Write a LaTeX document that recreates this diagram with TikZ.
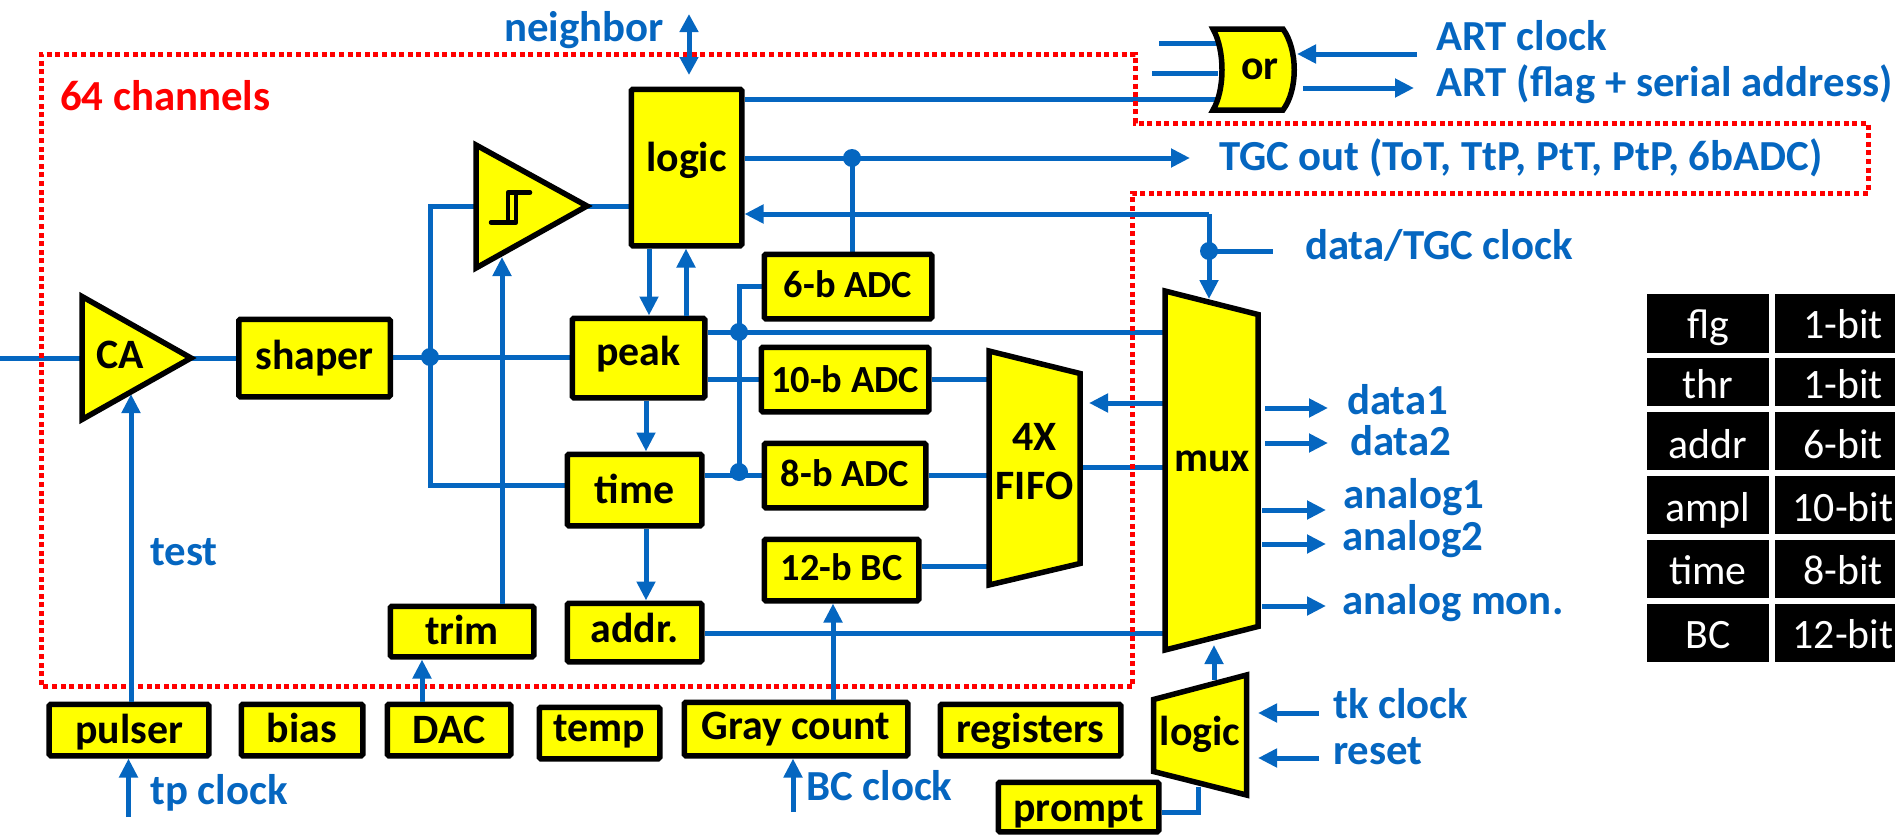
\documentclass[tikz,border=0pt]{standalone}
\usepackage{fontspec}
\setmainfont{Carlito}
\usetikzlibrary{arrows.meta}
\definecolor{wireblue}{RGB}{5,102,192}
\definecolor{blockyellow}{RGB}{255,255,0}
\definecolor{chanred}{RGB}{255,0,0}
\pgfdeclarelayer{bg}\pgfsetlayers{bg,main}
\newcommand{\adcfont}{\fontsize{38.5}{38.5}\selectfont\bfseries}
\tikzset{
  blockbox/.style={draw=black,fill=blockyellow,line width=5.5bp,rounded corners=1.5bp,inner sep=0pt,font=\fontsize{42}{42}\selectfont\bfseries,text=black,align=center},
  shapeline/.style={draw=black,fill=blockyellow,line width=5.5bp,line join=miter},
  shapetext/.style={inner sep=0pt,anchor=base,font=\fontsize{42}{42}\selectfont\bfseries,text=black},
  wire/.style={draw=wireblue,line width=5bp},
  arrowwire/.style={wire,-{Triangle[length=19bp,width=18bp]}},
  biwire/.style={wire,{Triangle[length=18bp,width=18bp]}-{Triangle[length=18bp,width=18bp]}},
  jdot/.style={circle,fill=wireblue,inner sep=0pt,minimum size=18bp},
  lbl/.style={inner sep=0pt,anchor=base west,text=wireblue,font=\fontsize{43}{43}\selectfont\bfseries},
  redlbl/.style={lbl,text=chanred},
  chanbox/.style={draw=chanred,line width=5bp,dash pattern=on 5bp off 3.6bp},
  cellbox/.style={fill=black,inner sep=0pt},
  celltext/.style={inner sep=0pt,anchor=base,text=white,font=\fontsize{42}{42}\selectfont},
}
% name, x1,y1,x2,y2 (outer edges), baseline y, text
\newcommand{\blk}[7]{%
  \pgfmathsetmacro{\bw}{#4-#2-4.5}\pgfmathsetmacro{\bh}{#5-#3-4.5}%
  \pgfmathsetmacro{\bcx}{(#2+#4)/2}\pgfmathsetmacro{\bcy}{(#3+#5)/2}%
  \pgfmathsetmacro{\bb}{#6-\bcy}\pgfmathsetmacro{\bH}{15+\bb}\pgfmathsetmacro{\bD}{15-\bb}%
  \node[blockbox,minimum width=\bw bp,minimum height=\bh bp,text height=\bH bp,text depth=\bD bp] (#1) at (\bcx,\bcy) {#7};}
% name, x1,y1,x2,y2, text x, baseline y, text
\newcommand{\tcell}[8]{%
  \pgfmathsetmacro{\bw}{#4-#2}\pgfmathsetmacro{\bh}{#5-#3}%
  \pgfmathsetmacro{\bcx}{(#2+#4)/2}\pgfmathsetmacro{\bcy}{(#3+#5)/2}%
  \node[cellbox,minimum width=\bw bp,minimum height=\bh bp] (#1) at (\bcx,\bcy) {};
  \node[celltext] (#1t) at (#6,#7) {#8};}
\begin{document}
\begin{tikzpicture}[x=1bp,y=-1bp]
\useasboundingbox (0,0) rectangle (1895,835);
% blocks
\blk{shaper}{236.5}{317}{392.5}{399}{369.5}{shaper}
\blk{logic}{629}{87}{744}{248}{171}{logic}
\blk{peak}{570}{316}{707}{400}{365.5}{peak}
\blk{time}{565}{452}{704}{528}{503.5}{time}
\blk{addr}{565}{601}{704}{664}{642}{addr.}
\blk{trim}{388}{604}{536}{659}{644.5}{trim}
\blk{adcsix}{762}{252}{934}{321}{297}{{\adcfont 6-b ADC}}
\blk{adcten}{759}{345}{931}{414}{392.5}{{\adcfont 10-b ADC}}
\blk{adceight}{762}{441}{928}{510}{486}{{\adcfont 8-b ADC}}
\blk{bc}{762}{537}{921}{603}{580}{{\adcfont 12-b BC}}
\blk{pulser}{47}{702}{211}{758}{743}{pulser}
\blk{bias}{239}{702}{365}{758}{742.5}{bias}
\blk{dac}{385}{702}{513}{758}{743}{DAC}
\blk{temp}{537}{705}{662}{761}{741.5}{temp}
\blk{gray}{682}{700}{910}{758}{739.5}{Gray count}
\blk{registers}{938}{702}{1123}{758}{742.5}{registers}
\blk{prompt}{996}{780}{1161}{834}{821.5}{prompt}
% shape corners
\coordinate (caL) at (82,358);
\coordinate (caR) at (191,358);
\coordinate (cmpL) at (476,206);
\coordinate (cmpR) at (587,206);
\coordinate (muxL) at (1165,400);
\coordinate (muxR) at (1258,400);
\coordinate (fifoL) at (989,400);
\coordinate (fifoR) at (1080,400);
\coordinate (orL) at (1218,70);
\coordinate (orR) at (1297,70);
\coordinate (lgL) at (1151,735);
\coordinate (lgR) at (1249,735);
\coordinate (jA) at (430,357);
\coordinate (jB) at (852,158);
\coordinate (jC) at (739,332);
\coordinate (jD) at (739,475);
\coordinate (jE) at (1209,251);
\coordinate (inL) at (0,358);
\coordinate (nbT) at (689,14);
\coordinate (nbB) at (689,75);
\coordinate (orA) at (1159,43);
\coordinate (orB) at (1152,73);
\coordinate (artC) at (1417,54);
\coordinate (artO) at (1414,88);
\coordinate (artS) at (1303,88);
\coordinate (tgcO) at (1190,158);
\coordinate (dclk) at (1273,251);
\coordinate (dcor) at (1209,214);
\coordinate (muxT) at (1209,299);
\coordinate (tpc) at (128.5,817);
\coordinate (bcc) at (793,812);
\coordinate (tkc) at (1319,713);
\coordinate (rst) at (1319,758);
\begin{pgfonlayer}{bg}
\draw[wire] (inL) -- (caL);
\draw[wire] (caR) -- (shaper.west|-caR);
\draw[wire] (shaper.east|-jA) -- (peak.west|-jA);
\draw[wire] (cmpL) -| (jA) -- (430,485) -- (time.west|-0,485);
\draw[wire] (cmpR) -- (logic.west|-cmpR);
\draw[wire] (logic.east|-0,99) -- (orL|-0,99);
\draw[wire] (orA) -- (orL|-orA);
\draw[wire] (orB) -- (orL|-orB);
\draw[wire] (adcsix.north-|jB) -- (jB);
\draw[wire] (adcsix.west|-0,286) -| (jD);
\draw[wire] (peak.east|-jC) -- (muxL|-jC);
\draw[wire] (peak.east|-0,379) -- (adcten.west|-0,379);
\draw[wire] (adcten.east|-0,379) -- (fifoL|-0,379);
\draw[wire] (time.east|-jD) -- (adceight.west|-jD);
\draw[wire] (adceight.east|-jD) -- (fifoL|-jD);
\draw[wire] (bc.east|-0,566) -- (fifoL|-0,566);
\draw[wire] (fifoR|-0,467) -- (muxL|-0,467);
\draw[wire] (addr.east|-0,633) -- (muxL|-0,633);
\draw[wire] (prompt.east|-0,812) -| (1198,787);
\draw[wire] (jE) -- (dclk);
\end{pgfonlayer}
% channel outline
\draw[chanbox] (1132,686) -- (41,686) -- (41,54) -- (1135,54) -- (1135,123) -- (1868,123) -- (1868,193) -- (1132,193) -- cycle;
% arrows
\draw[biwire] (nbT) -- (nbB);
\draw[arrowwire] (artC) -- (orR|-artC);
\draw[arrowwire] (artS) -- (artO);
\draw[arrowwire] (logic.east|-tgcO) -- (tgcO);
\draw[arrowwire] (dcor) -- (logic.east|-dcor);
\draw[arrowwire] (dcor) -- (muxT);
\draw[arrowwire] (muxL|-0,403) -- (1089,403);
\draw[arrowwire] (1265,408) -- (1328,408);
\draw[arrowwire] (1265,443) -- (1328,443);
\draw[arrowwire] (1262,510) -- (1326,510);
\draw[arrowwire] (1262,544) -- (1326,544);
\draw[arrowwire] (1262,606) -- (1326,606);
\draw[arrowwire] (1214,680) -- (1214,645);
\draw[arrowwire] (tkc) -- (1258,713);
\draw[arrowwire] (rst) -- (1258,758);
\draw[arrowwire] (logic.south-|649,0) -- (peak.north-|649,0);
\draw[arrowwire] (peak.north-|686,0) -- (logic.south-|686,0);
\draw[arrowwire] (peak.south-|646,0) -- (time.north-|646,0);
\draw[arrowwire] (time.south-|646,0) -- (addr.north-|646,0);
\draw[arrowwire] (gray.north-|833,0) -- (bc.south-|833,0);
\draw[arrowwire] (pulser.north-|131,0) -- (131,394);
\draw[arrowwire] (tpc) -- (pulser.south-|tpc);
\draw[arrowwire] (bcc) -- (gray.south-|bcc);
\draw[arrowwire] (dac.north-|422,0) -- (trim.south-|422,0);
\draw[arrowwire] (trim.north-|502,0) -- (502,257);
% junctions
\node[jdot] (dotA) at (jA) {};
\node[jdot] (dotB) at (jB) {};
\node[jdot] (dotC) at (jC) {};
\node[jdot] (dotD) at (739,472) {};
\node[jdot] (dotE) at (jE) {};
% shapes
\draw[shapeline] (82,296.5) -- (191,358) -- (82,419.5) -- cycle;
\node[shapetext] (catxt) at (120,368.5) {CA};
\draw[shapeline] (476,145) -- (587,206) -- (476,268) -- cycle;
\draw[black,line width=4.5bp,line cap=round,line join=round] (491,222.5) -- (516,222.5) -- (516,192.5) -- (530,192.5) (508,222.5) -- (508,192.5) -- (516,192.5);
\draw[shapeline] (1165,291) -- (1258,314.5) -- (1258,626.5) -- (1165,650) -- cycle;
\node[shapetext] (muxtxt) at (1212,471.5) {mux};
\draw[shapeline] (989,351) -- (1080,373.5) -- (1080,563.5) -- (989,585) -- cycle;
\node[shapetext] (fifoa) at (1034.5,450) {4X};
\node[shapetext] (fifob) at (1034.5,499.5) {FIFO};
\draw[shapeline] (1246.5,675) -- (1153.5,699.5) -- (1153.5,771.5) -- (1246.5,795) -- cycle;
\node[shapetext] (lgtxt) at (1200,745) {logic};
\draw[shapeline] (1213,29) .. controls (1225,50) and (1225,90) .. (1213,110) -- (1283,110) .. controls (1298,90) and (1298,50) .. (1283,29) -- cycle;
\node[shapetext] (ortxt) at (1260,79) {or};
% labels
\node[lbl] (nbl) at (504,41.5) {neighbor};
\node[redlbl] (chl) at (60,110) {64 channels};
\node[lbl] (l1) at (1436,50.5) {ART clock};
\node[lbl] (l2) at (1436,96.5) {ART (flag + serial address)};
\node[lbl] (l3) at (1219,170) {TGC out (ToT, TtP, PtT, PtP, 6bADC)};
\node[lbl] (l4) at (1305,259.5) {data/TGC clock};
\node[lbl] (l5) at (1347,414) {data1};
\node[lbl] (l6) at (1350,455.5) {data2};
\node[lbl] (l7) at (1343,508.5) {analog1};
\node[lbl] (l8) at (1342,550.5) {analog2};
\node[lbl] (l9) at (1342,614.5) {analog mon.};
\node[lbl] (l10) at (1333,718) {tk clock};
\node[lbl] (l11) at (1333,764) {reset};
\node[lbl] (l12) at (150,565) {test};
\node[lbl] (l13) at (150,804) {tp clock};
\node[lbl] (l14) at (806,800.5) {BC clock};
% table
\tcell{ta}{1647}{294}{1769}{353}{1708}{338}{flg}
\tcell{tb}{1775}{294}{1895}{353}{1843}{338}{1-bit}
\tcell{tc}{1647}{358}{1769}{406}{1708}{398}{thr}
\tcell{td}{1775}{358}{1895}{406}{1843}{398}{1-bit}
\tcell{te}{1647}{412}{1769}{470}{1708}{458}{addr}
\tcell{tf}{1775}{412}{1895}{470}{1843}{458}{6-bit}
\tcell{tg}{1647}{476}{1769}{534}{1708}{521}{ampl}
\tcell{th}{1775}{476}{1895}{534}{1843}{521}{10-bit}
\tcell{ti}{1647}{540}{1769}{598}{1708}{584}{time}
\tcell{tj}{1775}{540}{1895}{598}{1843}{584}{8-bit}
\tcell{tk}{1647}{604}{1769}{662}{1708}{648}{BC}
\tcell{tl}{1775}{604}{1895}{662}{1843}{648}{12-bit}
\end{tikzpicture}
\end{document}
